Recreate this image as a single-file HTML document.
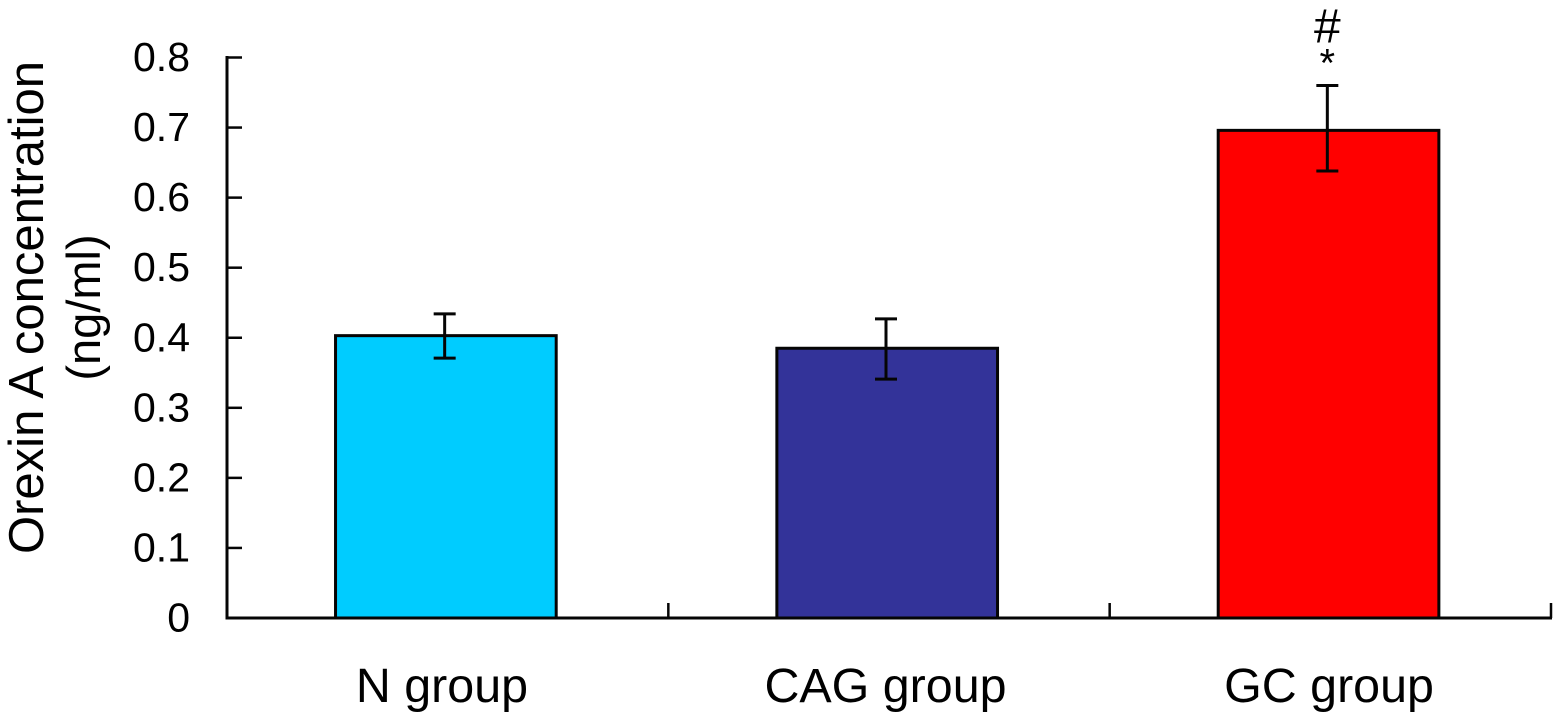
<!DOCTYPE html>
<html lang="en">
<head>
<meta charset="utf-8">
<title>Orexin A concentration</title>
<style>
html,body{margin:0;padding:0;background:#fff;width:1557px;height:712px;overflow:hidden}
svg{display:block}
text{font-family:"Liberation Sans",Arial,sans-serif;fill:#000}
</style>
</head>
<body>
<svg id="chart" width="1557" height="712" viewBox="0 0 1557 712" xmlns="http://www.w3.org/2000/svg">
  <text transform="translate(43,307.5) rotate(-90)" text-anchor="middle" font-size="49">Orexin A concentration</text>
  <text transform="translate(100,307.5) rotate(-90)" text-anchor="middle" font-size="47">(ng/ml)</text>
</svg>
<script>
const categories = ['N group', 'CAG group', 'GC group'];
const means = [0.403, 0.385, 0.696];
const errorUpper = [0.434, 0.427, 0.760];
const errorLower = [0.371, 0.341, 0.638];
const barColors = ['#00ccff', '#333399', '#ff0000'];
const yTicks = [0, 0.1, 0.2, 0.3, 0.4, 0.5, 0.6, 0.7, 0.8];
const yTickLabels = ['0', '0.1', '0.2', '0.3', '0.4', '0.5', '0.6', '0.7', '0.8'];
const annotations = ['', '', '*'];
const annotationsTop = ['', '', '#'];

const svg = document.getElementById('chart');
const NS = 'http://www.w3.org/2000/svg';
const plotLeft = 227, plotRight = 1551, plotBottom = 618, plotTop = 57.5, yMax = 0.8;
const INK = '#050505';

function yScale(v) { return plotBottom - (v / yMax) * (plotBottom - plotTop); }
function bandWidth() { return (plotRight - plotLeft) / categories.length; }
function xEdge(i) { return plotLeft + i * bandWidth(); }
function xCenter(i) { return xEdge(i) + bandWidth() / 2; }
function labelCenter(i) { return xCenter(i) - 3.5 + (i - 1) * 2.2; }

function make(tag, attrs, text) {
  const el = document.createElementNS(NS, tag);
  for (const k in attrs) el.setAttribute(k, attrs[k]);
  if (text !== undefined) el.textContent = text;
  svg.appendChild(el);
  return el;
}

const barW = bandWidth() * 0.5;

categories.forEach(function (c, i) {
  const top = yScale(means[i]);
  const bar = make('rect', { x: xCenter(i) - 1.8 - barW / 2, y: top, width: barW, height: plotBottom - top, fill: barColors[i], stroke: INK, 'stroke-width': 3 });
  
  
});

categories.forEach(function (c, i) {
  const cx = xCenter(i) - 3;
  const key = c.split(' ')[0].toLowerCase();
  const stem = make('line', { x1: cx, x2: cx, y1: yScale(errorUpper[i]), y2: yScale(errorLower[i]), stroke: INK, 'stroke-width': 3 });
  
  
  const capTop = make('line', { x1: cx - 11, x2: cx + 11, y1: yScale(errorUpper[i]), y2: yScale(errorUpper[i]), stroke: INK, 'stroke-width': 3 });
  
  
  const capBottom = make('line', { x1: cx - 11, x2: cx + 11, y1: yScale(errorLower[i]), y2: yScale(errorLower[i]), stroke: INK, 'stroke-width': 3 });
  
  

  const label = make('text', { x: labelCenter(i), y: 702, 'text-anchor': 'middle', 'font-size': 48.4 }, c);
  
  

  if (annotations[i]) {
    const star = make('text', { x: cx, y: yScale(errorUpper[i]) - 9, 'text-anchor': 'middle', 'font-size': 40 }, annotations[i]);
    
    
  }
  if (annotationsTop[i]) {
    const hash = make('text', { x: cx, y: yScale(errorUpper[i]) - 43, 'text-anchor': 'middle', 'font-size': 48 }, annotationsTop[i]);
    
    
  }
});

const yAxisLine = make('line', { x1: plotLeft, x2: plotLeft, y1: plotTop - 1.5, y2: plotBottom + 1.5, stroke: INK, 'stroke-width': 3 });



const xAxisLine = make('line', { x1: plotLeft, x2: plotRight + 1, y1: plotBottom, y2: plotBottom, stroke: INK, 'stroke-width': 3 });



yTicks.forEach(function (t, i) {
  const y = yScale(t);
  if (t !== 0) {
    const tick = make('line', { x1: plotLeft, x2: plotLeft + 15, y1: y, y2: y, stroke: INK, 'stroke-width': 2.5 });
    
    
  }
  const tl = make('text', { x: 190, y: y + 13.5, 'text-anchor': 'end', 'font-size': 41 }, yTickLabels[i]);
  
  
});

for (let i = 1; i <= categories.length; i++) {
  const x = xEdge(i);
  const tick = make('line', { x1: x, x2: x, y1: plotBottom - 15, y2: plotBottom, stroke: INK, 'stroke-width': 2.5 });
  
  
}
</script>
</body>
</html>
